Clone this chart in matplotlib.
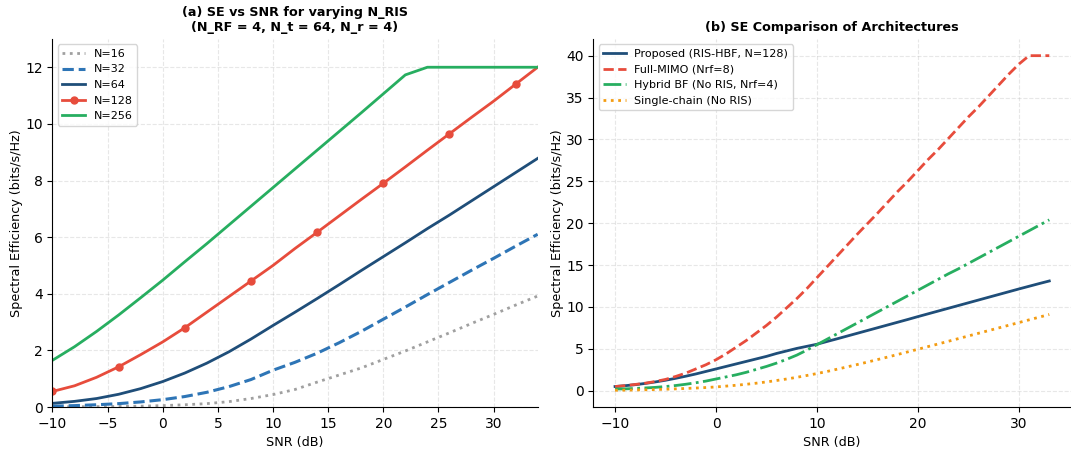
import numpy as np
import matplotlib
matplotlib.use("Agg")
import matplotlib.pyplot as plt

# --- (a) SE vs SNR for several RIS sizes ---
snr_a = np.arange(-10, 35, 2)

se_n16 = [0.005, 0.01, 0.015, 0.02, 0.03, 0.05, 0.08, 0.12, 0.19, 0.30, 0.44, 0.62,
          0.88, 1.13, 1.38, 1.68, 1.98, 2.30, 2.62, 2.95, 3.27, 3.60, 3.92]
se_n32 = [0.03, 0.05, 0.08, 0.12, 0.18, 0.26, 0.37, 0.52, 0.72, 0.97, 1.30, 1.58,
          1.90, 2.27, 2.67, 3.10, 3.53, 3.97, 4.40, 4.83, 5.25, 5.68, 6.10]
se_n64 = [0.13, 0.20, 0.30, 0.45, 0.65, 0.90, 1.20, 1.55, 1.95, 2.40, 2.88, 3.35,
          3.83, 4.32, 4.82, 5.31, 5.80, 6.30, 6.78, 7.28, 7.78, 8.28, 8.78]
se_n128 = [0.55, 0.75, 1.05, 1.42, 1.85, 2.30, 2.80, 3.35, 3.90, 4.45, 5.00, 5.60,
           6.17, 6.75, 7.33, 7.90, 8.48, 9.07, 9.65, 10.23, 10.80, 11.40, 12.00]
se_n256 = [1.65, 2.13, 2.67, 3.25, 3.86, 4.48, 5.13, 5.77, 6.43, 7.09, 7.75, 8.41,
           9.07, 9.73, 10.39, 11.06, 11.73, 12.0, 12.0, 12.0, 12.0, 12.0, 12.0]

# --- (b) architecture comparison ---
snr_b = np.arange(-10, 34, 1)

se_proposed = [0.5, 0.6, 0.72, 0.87, 1.05, 1.25, 1.48, 1.73, 2.0, 2.3, 2.6, 2.9, 3.2, 3.5,
               3.8, 4.1, 4.45, 4.75, 5.05, 5.3, 5.55, 5.88, 6.2, 6.53, 6.86, 7.19, 7.52,
               7.85, 8.18, 8.51, 8.85, 9.18, 9.51, 9.84, 10.17, 10.5, 10.83, 11.16, 11.49,
               11.82, 12.15, 12.47, 12.79, 13.1]
se_full = [0.5, 0.6, 0.75, 0.9, 1.1, 1.35, 1.7, 2.1, 2.6, 3.1, 3.7, 4.4, 5.2, 6.0,
           6.9, 7.8, 8.8, 9.9, 11.0, 12.2, 13.5, 14.8, 16.1, 17.4, 18.7, 19.95, 21.2,
           22.5, 23.8, 25.0, 26.3, 27.6, 28.8, 30.1, 31.4, 32.7, 33.9, 35.2, 36.5,
           37.8, 39.0, 40.0, 40.0, 40.0]
se_hybrid = [0.2, 0.22, 0.27, 0.33, 0.4, 0.5, 0.62, 0.77, 0.95, 1.15, 1.4, 1.65, 1.9,
             2.2, 2.55, 2.9, 3.3, 3.75, 4.25, 4.85, 5.5, 6.15, 6.8, 7.45, 8.1, 8.75,
             9.4, 10.05, 10.7, 11.35, 12.0, 12.65, 13.3, 13.95, 14.55, 15.2, 15.85,
             16.5, 17.15, 17.8, 18.45, 19.1, 19.75, 20.4]
se_single = [0.05, 0.07, 0.09, 0.11, 0.14, 0.18, 0.22, 0.27, 0.32, 0.38, 0.45, 0.55,
             0.65, 0.77, 0.9, 1.05, 1.22, 1.4, 1.6, 1.82, 2.05, 2.3, 2.57, 2.85, 3.13,
             3.42, 3.72, 4.02, 4.33, 4.64, 4.95, 5.27, 5.58, 5.9, 6.22, 6.54, 6.86,
             7.18, 7.5, 7.82, 8.14, 8.46, 8.78, 9.1]

plt.rcParams['font.family'] = 'DejaVu Sans'

fig = plt.figure(figsize=(10.71, 4.5), dpi=100)
ax1 = fig.add_axes([0.049, 0.0955, 0.453, 0.818])
ax2 = fig.add_axes([0.554, 0.0955, 0.446, 0.818])

# panel (a)
ax1.plot(snr_a, se_n16, ':', color='#a0a0a0', lw=2, label='N=16')
ax1.plot(snr_a, se_n32, '--', color='#2e75b6', lw=2.2, label='N=32')
ax1.plot(snr_a, se_n64, '-', color='#1f4e79', lw=2, label='N=64')
ax1.plot(snr_a, se_n128, '-', color='#e74c3c', lw=2, marker='o', markersize=5,
         markevery=3, label='N=128')
ax1.plot(snr_a, se_n256, '-', color='#27ae60', lw=2, label='N=256')
ax1.set_xlim(-10, 34)
ax1.set_ylim(0, 13)
ax1.set_xlabel('SNR (dB)', fontsize=9.2)
ax1.set_ylabel('Spectral Efficiency (bits/s/Hz)', fontsize=9.2, labelpad=1.5)
ax1.set_title('(a) SE vs SNR for varying N_RIS\n(N_RF = 4, N_t = 64, N_r = 4)',
              fontsize=9.2, fontweight='bold')
ax1.legend(loc='upper left', fontsize=8)

# panel (b)
ax2.plot(snr_b, se_proposed, '-', color='#1f4e79', lw=2, label='Proposed (RIS-HBF, N=128)')
ax2.plot(snr_b, se_full, '--', color='#e74c3c', lw=2, label='Full-MIMO (Nrf=8)')
ax2.plot(snr_b, se_hybrid, '-.', color='#27ae60', lw=2, label='Hybrid BF (No RIS, Nrf=4)')
ax2.plot(snr_b, se_single, ':', color='#f39c12', lw=2, label='Single-chain (No RIS)')
ax2.set_xlabel('SNR (dB)', fontsize=9.2)
ax2.set_ylabel('Spectral Efficiency (bits/s/Hz)', fontsize=9.2, labelpad=1.5)
ax2.set_title('(b) SE Comparison of Architectures', fontsize=9.2, fontweight='bold')
ax2.legend(loc='upper left', fontsize=8)

for ax in (ax1, ax2):
    ax.grid(True, linestyle='--', alpha=0.3)
    ax.spines['top'].set_visible(False)
    ax.spines['right'].set_visible(False)
    ax.tick_params(labelsize=10)

fig.savefig('out.png', dpi=100)
